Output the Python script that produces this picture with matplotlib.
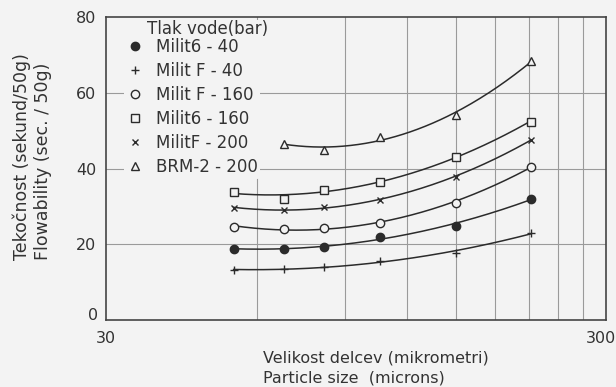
import numpy as np
import matplotlib.pyplot as plt
from matplotlib.lines import Line2D
import matplotlib.transforms as mtransforms

# particle size (microns)
size = [54, 68, 82, 106, 150, 212]
size_brm = [68, 82, 106, 150, 212]

# flowability (sec./50g)
milit6_40 = [18.8, 18.8, 19.3, 22.0, 24.9, 32.0]
militf_40 = [13.2, 13.5, 14.0, 15.6, 17.7, 23.0]
militf_160 = [24.6, 24.1, 24.3, 25.7, 31.0, 40.5]
milit6_160 = [33.9, 32.0, 34.4, 36.5, 43.1, 52.4]
militf_200 = [29.6, 29.1, 29.9, 31.7, 37.8, 47.6]
brm2_200 = [46.6, 45.0, 48.4, 54.2, 68.3]

labels = ['Milit6 - 40', 'Milit F - 40', 'Milit F - 160',
          'Milit6 - 160', 'MilitF - 200', 'BRM-2 - 200']

bg = '#f3f3f3'
ink = '#2b2b2b'
txt = '#333333'

plt.rcParams['font.family'] = 'DejaVu Sans'

fig = plt.figure(figsize=(6.16, 3.87), dpi=100, facecolor=bg)
ax = fig.add_axes([0.172, 0.173, 0.812, 0.783], facecolor=bg)

series = [
    (size, milit6_40, dict(marker='o', mfc=ink, mec=ink, ms=6)),
    (size, militf_40, dict(marker='+', mfc='none', mec=ink, ms=6, mew=1.0)),
    (size, militf_160, dict(marker='o', mfc=bg, mec=ink, ms=6, mew=1.0)),
    (size, milit6_160, dict(marker='s', mfc=bg, mec=ink, ms=6, mew=1.0)),
    (size, militf_200, dict(marker='x', mfc='none', mec=ink, ms=5, mew=1.0)),
    (size_brm, brm2_200, dict(marker='^', mfc=bg, mec=ink, ms=6, mew=1.0)),
]

handles = []
for xs, ys, st in series:
    # smooth curve through the points (quadratic in log size)
    lx = np.log10(xs)
    c = np.polyfit(lx, ys, 2)
    xx = np.linspace(lx[0], lx[-1], 200)
    ax.plot(10 ** xx, np.polyval(c, xx), color=ink, lw=1.1, zorder=3)
    ax.plot(xs, ys, ls='none', zorder=4, **st)
    handles.append(Line2D([], [], ls='none', **st))

ax.set_xscale('log')
ax.set_xlim(30, 300)
ax.set_ylim(0, 80)

gx = [60, 90, 120, 150, 180, 210, 240, 270]
for g in gx:
    ax.axvline(g, color='#9a9a9a', lw=0.8, zorder=1)
for g in [20, 40, 60]:
    ax.axhline(g, color='#9a9a9a', lw=0.8, zorder=1)

ax.set_xticks([30, 300])
ax.set_xticks([], minor=True)
ax.set_xticklabels(['30', '300'])
ax.set_yticks([0, 20, 40, 60, 80])
ax.tick_params(length=0, labelsize=11.5, colors=txt, pad=7)
ax.tick_params(axis='x', pad=8)
xl = ax.get_xticklabels()
xl[1].set_horizontalalignment('right')
xl[1].set_transform(xl[1].get_transform() +
                    mtransforms.ScaledTranslation(0.10, 0, fig.dpi_scale_trans))
yl = ax.get_yticklabels()
yl[0].set_transform(yl[0].get_transform() +
                    mtransforms.ScaledTranslation(0.02, 0.06, fig.dpi_scale_trans))

for s in ax.spines.values():
    s.set_color('#444444')
    s.set_linewidth(1.2)

leg = ax.legend(handles, labels, loc='upper left',
                bbox_to_anchor=(0.037, 0.939), borderaxespad=0, borderpad=0.15,
                handlelength=1.0, handletextpad=0.72, labelspacing=0.36,
                fontsize=12, frameon=True, facecolor=bg, edgecolor='none',
                framealpha=1)
leg.set_zorder(5)
for t in leg.get_texts():
    t.set_color(txt)

# legend heading
ax.text(0.082, 0.961, 'Tlak vode(bar)', transform=ax.transAxes, ha='left',
        va='center', fontsize=12, color=txt, zorder=4.5,
        bbox=dict(facecolor=bg, edgecolor='none', pad=0))

fig.text(0.052, 0.328, 'Tekočnost (sekund/50g)\nFlowability (sec. / 50g)',
         rotation=90, ha='center', va='bottom', multialignment='left',
         fontsize=12.5, color=txt, linespacing=1.2)
fig.text(0.427, 0.049, 'Velikost delcev (mikrometri)\nParticle size  (microns)',
         ha='left', va='center', multialignment='left', fontsize=11.5,
         color=txt, linespacing=1.35)

fig.savefig('out.png', dpi=100, facecolor=bg)
